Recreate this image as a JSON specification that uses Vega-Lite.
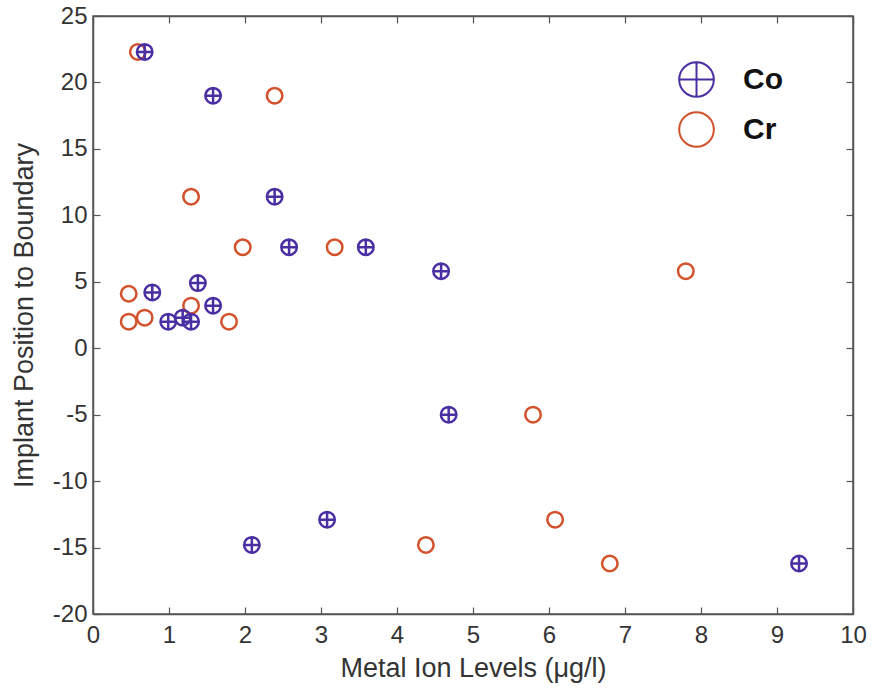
{
  "$schema": "https://vega.github.io/schema/vega-lite/v6.json",
  "width": 760,
  "height": 598,
  "autosize": {"type": "none"},
  "padding": {"left": 93, "top": 16, "right": 21, "bottom": 81},
  "background": "white",
  "config": {
    "view": {"stroke": "#555555", "strokeWidth": 1.5},
    "font": "Liberation Sans"
  },
  "data": {
    "values": [
      {"metal": "Cr", "level": 0.59, "position": 22.3},
      {"metal": "Cr", "level": 2.39, "position": 19.0},
      {"metal": "Cr", "level": 1.29, "position": 11.4},
      {"metal": "Cr", "level": 1.97, "position": 7.6},
      {"metal": "Cr", "level": 3.18, "position": 7.6},
      {"metal": "Cr", "level": 7.8, "position": 5.8},
      {"metal": "Cr", "level": 0.47, "position": 4.1},
      {"metal": "Cr", "level": 0.47, "position": 2.0},
      {"metal": "Cr", "level": 0.68, "position": 2.3},
      {"metal": "Cr", "level": 1.29, "position": 3.2},
      {"metal": "Cr", "level": 1.79, "position": 2.0},
      {"metal": "Cr", "level": 5.79, "position": -5.0},
      {"metal": "Cr", "level": 4.38, "position": -14.8},
      {"metal": "Cr", "level": 6.08, "position": -12.9},
      {"metal": "Cr", "level": 6.8, "position": -16.2},
      {"metal": "Co", "level": 0.68, "position": 22.3},
      {"metal": "Co", "level": 1.58, "position": 19.0},
      {"metal": "Co", "level": 2.39, "position": 11.4},
      {"metal": "Co", "level": 2.58, "position": 7.6},
      {"metal": "Co", "level": 3.59, "position": 7.6},
      {"metal": "Co", "level": 4.58, "position": 5.8},
      {"metal": "Co", "level": 0.78, "position": 4.2},
      {"metal": "Co", "level": 1.38, "position": 4.9},
      {"metal": "Co", "level": 1.58, "position": 3.2},
      {"metal": "Co", "level": 0.99, "position": 2.0},
      {"metal": "Co", "level": 1.18, "position": 2.3},
      {"metal": "Co", "level": 1.29, "position": 2.0},
      {"metal": "Co", "level": 4.68, "position": -5.0},
      {"metal": "Co", "level": 2.09, "position": -14.8},
      {"metal": "Co", "level": 3.08, "position": -12.9},
      {"metal": "Co", "level": 9.29, "position": -16.2}
    ]
  },
  "layer": [
    {
      "mark": {"type": "point", "filled": false, "strokeWidth": 2.5, "size": 240, "opacity": 1},
      "encoding": {
        "x": {
          "field": "level", "type": "quantitative",
          "scale": {"domain": [0, 10], "nice": false, "zero": false},
          "axis": {
            "title": "Metal Ion Levels (μg/l)", "orient": "bottom",
            "values": [0, 1, 2, 3, 4, 5, 6, 7, 8, 9, 10],
            "grid": false, "tickSize": -7, "tickColor": "#555555", "tickWidth": 1.2,
            "domainColor": "#555555", "domainWidth": 1.5,
            "labelFontSize": 24, "labelColor": "#333333", "labelPadding": 16, "labelFlush": false,
            "titleFontSize": 27, "titleFontWeight": "normal", "titleColor": "#333333", "titlePadding": 8
          }
        },
        "y": {
          "field": "position", "type": "quantitative",
          "scale": {"domain": [-20, 25], "nice": false, "zero": false},
          "axis": {
            "title": "Implant Position to Boundary", "orient": "left",
            "values": [-20, -15, -10, -5, 0, 5, 10, 15, 20, 25],
            "labelExpr": "datum.value < 0 ? '-' + abs(datum.value) : '' + datum.value",
            "grid": false, "tickSize": -7, "tickColor": "#555555", "tickWidth": 1.2,
            "domainColor": "#555555", "domainWidth": 1.5,
            "labelFontSize": 24, "labelColor": "#333333", "labelPadding": 13, "labelFlush": false,
            "titleFontSize": 27, "titleFontWeight": "normal", "titleColor": "#333333", "titlePadding": 14
          }
        },
        "color": {
          "field": "metal", "type": "nominal",
          "scale": {"domain": ["Co", "Cr"], "range": ["#4a2fa3", "#d2522c"]},
          "legend": {
            "title": null, "orient": "none", "legendX": 585, "legendY": 45,
            "symbolSize": 1200, "symbolStrokeWidth": 2, "symbolType": "circle",
            "labelFontSize": 30, "labelFontWeight": "bold", "labelFont": "Liberation Sans", "labelColor": "#111111",
            "labelOffset": 28, "rowPadding": 7, "padding": 0
          }
        },
        "shape": {
          "field": "metal", "type": "nominal",
          "scale": {"domain": ["Co", "Cr"], "range": ["M1,0C1,0.5523,0.5523,1,0,1C-0.5523,1,-1,0.5523,-1,0C-1,-0.5523,-0.5523,-1,0,-1C0.5523,-1,1,-0.5523,1,0ZM-1,0L1,0M0,-1L0,1", "circle"]},
          "legend": null
        },
        "order": {"field": "metal", "sort": "descending"}
      }
    },
    {
      "mark": {"type": "point", "opacity": 0},
      "encoding": {
        "x": {
          "field": "level", "type": "quantitative",
          "axis": {
            "title": null, "orient": "top", "labels": false,
            "values": [0, 1, 2, 3, 4, 5, 6, 7, 8, 9, 10],
            "grid": false, "tickSize": -7, "tickColor": "#555555", "tickWidth": 1.2,
            "domainColor": "#555555", "domainWidth": 1.5
          }
        },
        "y": {
          "field": "position", "type": "quantitative",
          "axis": {
            "title": null, "orient": "right", "labels": false,
            "values": [-20, -15, -10, -5, 0, 5, 10, 15, 20, 25],
            "grid": false, "tickSize": -7, "tickColor": "#555555", "tickWidth": 1.2,
            "domainColor": "#555555", "domainWidth": 1.5
          }
        }
      }
    }
  ]
}
